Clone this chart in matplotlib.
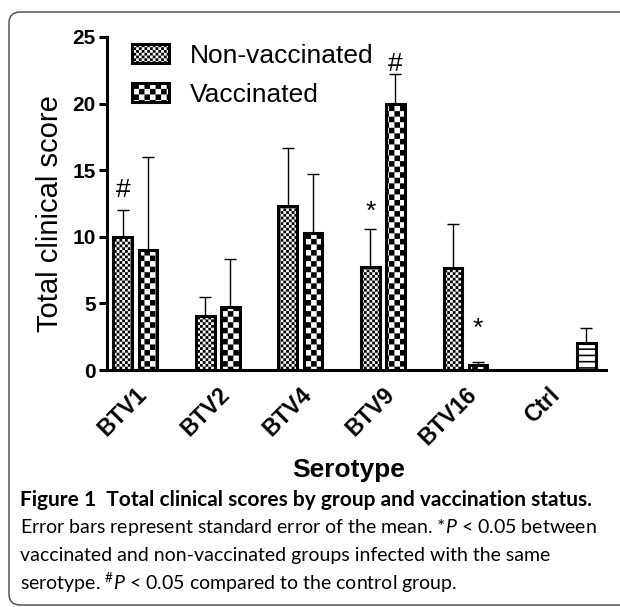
import warnings
import numpy as np
import matplotlib
matplotlib.use("Agg")
from matplotlib import pyplot as plt
from matplotlib import hatch as mhatch
from matplotlib.patches import FancyBboxPatch
from matplotlib.transforms import ScaledTranslation

warnings.filterwarnings("ignore")

# data
serotypes = ["BTV1", "BTV2", "BTV4", "BTV9", "BTV16"]
nonvacc = [10.0, 4.05, 12.3, 7.7, 7.65]
nonvacc_sem = [2.0, 1.45, 4.35, 2.9, 3.3]
vacc = [9.0, 4.7, 10.3, 20.0, 0.37]
vacc_sem = [7.0, 3.6, 4.45, 2.2, 0.25]
ctrl = [2.05]
ctrl_sem = [1.08]
tick_labels = serotypes + ["Ctrl"]
# (group, series offset sign, y, symbol)
marks = [(0, -1, 13.5, "#"), (3, 1, 23.0, "#"), (3, -1, 11.9, "*"), (4, 1, 3.1, "*")]

plt.rcParams["font.family"] = ["Liberation Sans", "DejaVu Sans"]
plt.rcParams["hatch.linewidth"] = 0.0
plt.rcParams["mathtext.fontset"] = "custom"
plt.rcParams["mathtext.it"] = "Lato:italic"
plt.rcParams["mathtext.rm"] = "Lato"


class FilledPattern(mhatch.HatchPatternBase):
    # checkerboards and filled stripes, GraphPad style
    def __init__(self, hatch, density):
        self.cells = []
        if "+" in hatch:
            self.cells = self.checker(36)
        elif "x" in hatch:
            self.cells = self.checker(18)
        elif "-" in hatch:
            n = 16
            self.cells = [(0, k / n, 1, k / n + 0.016) for k in range(n)]
        self.num_vertices = len(self.cells) * 5

    @staticmethod
    def checker(n):
        s = 1.0 / n
        return [(i * s, j * s, (i + 1) * s, (j + 1) * s)
                for i in range(n) for j in range(n) if (i + j) % 2 == 0]

    def set_vertices_and_codes(self, vertices, codes):
        for k, (x0, y0, x1, y1) in enumerate(self.cells):
            vertices[5 * k:5 * k + 5] = [(x0, y0), (x1, y0), (x1, y1), (x0, y1), (x0, y0)]
            codes[5 * k:5 * k + 5] = [1, 2, 2, 2, 79]


mhatch._hatch_types.append(FilledPattern)

fig = plt.figure(figsize=(6.2, 6.07), dpi=100)
W, H = 620, 607
fig.patches.append(FancyBboxPatch((9 / W, 1 - 605 / H), 640 / W, 593 / H,
                                  boxstyle="round,pad=0,rounding_size=0.018",
                                  transform=fig.transFigure, facecolor="none",
                                  edgecolor="#555555", linewidth=1.1))

ax = fig.add_axes([107 / W, 1 - 370 / H, 499 / W, 333 / H])

x = np.arange(len(serotypes))
off = 0.152
bw = 0.225
ax.bar(x - off, nonvacc, bw, facecolor="white", edgecolor="black", linewidth=2.2,
       hatch="+", label="Non-vaccinated", zorder=2)
ax.bar(x + off, vacc, bw, facecolor="white", edgecolor="black", linewidth=2.2,
       hatch="x", label="Vaccinated", zorder=2)
ctrl_x = [len(serotypes) + 0.467]
ax.bar(ctrl_x, ctrl, bw, facecolor="white", edgecolor="black", linewidth=2.2,
       hatch="-", zorder=2)

ekw = dict(fmt="none", ecolor="black", elinewidth=1.0, capsize=4.5, capthick=1.0, zorder=1)
ax.errorbar(x - off, nonvacc, yerr=[np.zeros(len(x)), nonvacc_sem], **ekw)
ax.errorbar(x + off, vacc, yerr=[np.zeros(len(x)), vacc_sem], **ekw)
ax.errorbar(ctrl_x, ctrl, yerr=[[0], ctrl_sem], **ekw)

for g, s, yy, sym in marks:
    ax.text(g + s * off, yy, sym, ha="center", va="center", fontsize=19)

ax.set_xlim(-0.343, 5.705)
ax.set_ylim(0, 25)
ax.set_yticks(range(0, 26, 5))
ax.set_xticks(range(len(tick_labels)))
ax.set_xticklabels(tick_labels, rotation=45, ha="right", va="top",
                   rotation_mode="anchor", fontsize=16.5, fontweight="bold")
shift = ScaledTranslation(0.25, 0, fig.dpi_scale_trans)
for lab in ax.get_xticklabels():
    lab.set_transform(lab.get_transform() + shift)
for lab in ax.get_yticklabels():
    lab.set_fontweight("bold")
ax.tick_params(axis="y", labelsize=15, length=6, width=2.2, pad=2)
ax.tick_params(axis="x", length=0, pad=9.5)

for sp in ["top", "right"]:
    ax.spines[sp].set_visible(False)
for sp in ["left", "bottom"]:
    ax.spines[sp].set_linewidth(2.2)
ax.spines["left"].set_bounds(0, 25)

ax.set_ylabel("Total clinical score", fontsize=21)
ax.yaxis.set_label_coords(-0.086, 0.47)
ax.set_xlabel("Serotype", fontsize=19, fontweight="bold", va="center")
ax.xaxis.set_label_coords(0.484, -0.30)

ax.legend(loc="upper left", bbox_to_anchor=(0.0495, 0.98), frameon=False,
          fontsize=19, borderpad=0, borderaxespad=0, handlelength=1.4,
          handleheight=0.72, handletextpad=0.8, labelspacing=0.57)

cap_kw = dict(family=["Lato", "DejaVu Sans"], va="center", ha="left")
fig.text(20 / W, 1 - 500 / H,
         "Figure 1  Total clinical scores by group and vaccination status.",
         fontweight="bold", fontsize=15, **cap_kw)
fig.text(20 / W, 1 - 527 / H,
         "Error bars represent standard error of the mean. *$P$ < 0.05 between",
         fontsize=14, **cap_kw)
fig.text(20 / W, 1 - 555 / H,
         "vaccinated and non-vaccinated groups infected with the same",
         fontsize=14, **cap_kw)
fig.text(20 / W, 1 - 583 / H,
         r"serotype. ${}^{\#}P$ < 0.05 compared to the control group.",
         fontsize=14, **cap_kw)

fig.savefig("out.png", dpi=100)
